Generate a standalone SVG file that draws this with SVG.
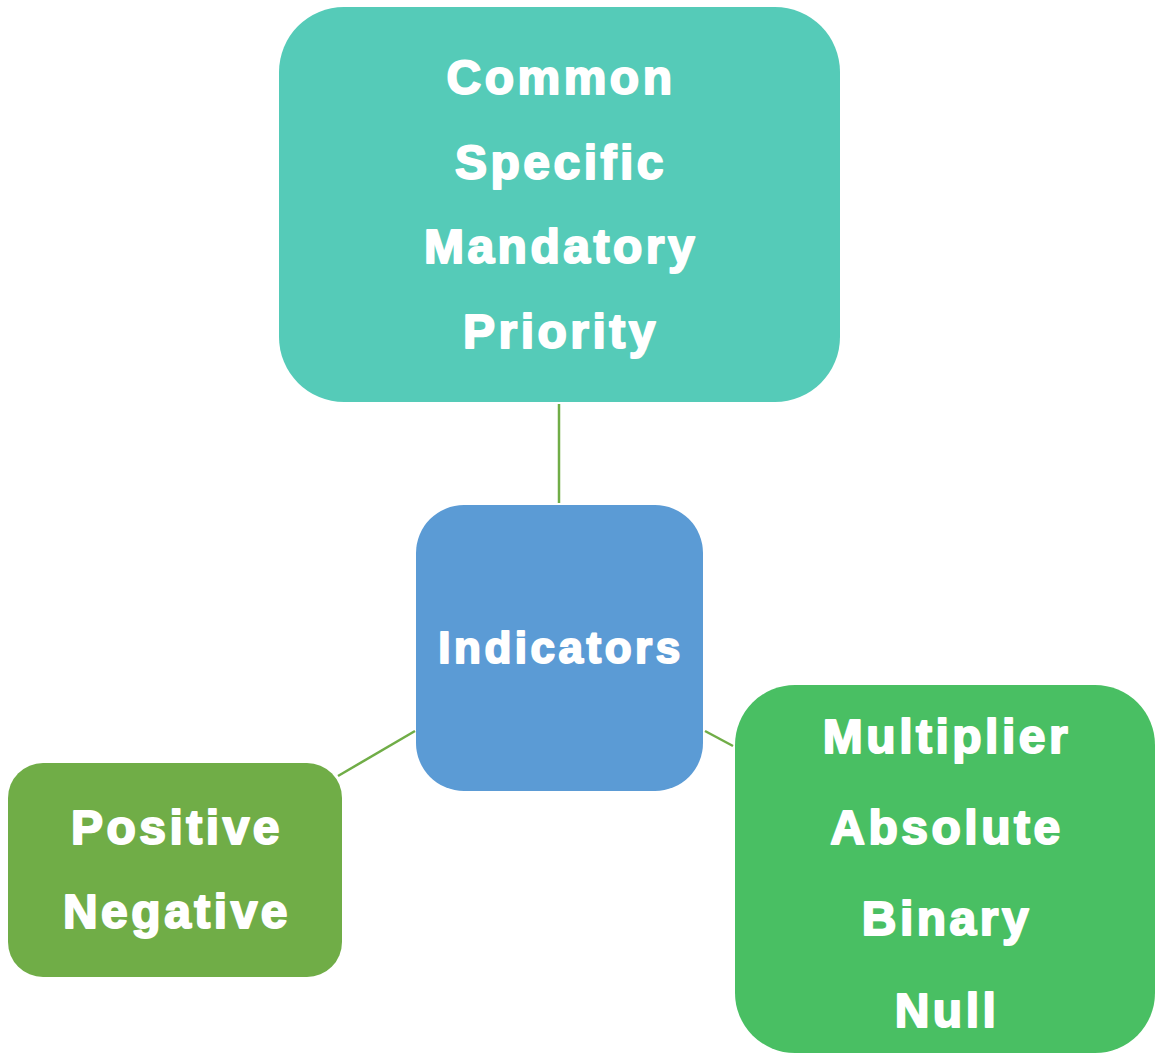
<svg xmlns="http://www.w3.org/2000/svg" width="1159" height="1054" viewBox="0 0 1159 1054">
<style>
.lbl{font-family:"Liberation Sans",Arial,sans-serif;font-weight:bold;fill:#fff;stroke:#fff;stroke-width:2;stroke-linejoin:round;text-anchor:middle;letter-spacing:3.5px}
.big{font-size:48px}
.mid{font-size:44px}
.conn{stroke:#70AD47;stroke-width:2.5;fill:none}
</style>
<rect width="1159" height="1054" fill="#fff"/>
<g id="connectors">
<line class="conn" x1="559" y1="404" x2="559" y2="503"/>
<line class="conn" x1="415" y1="731" x2="338" y2="776"/>
<line class="conn" x1="705" y1="731" x2="733" y2="746"/>
</g>
<g id="node-top">
<rect x="279" y="7" width="561" height="395" rx="65" fill="#55CBB8"/>
<text class="lbl big" x="561" y="94">Common</text>
<text class="lbl big" x="561" y="179">Specific</text>
<text class="lbl big" x="561" y="263">Mandatory</text>
<text class="lbl big" x="561" y="348">Priority</text>
</g>
<g id="node-center">
<rect x="416" y="505" width="287" height="286" rx="48" fill="#5B9BD5"/>
<text class="lbl mid" x="561" y="663">Indicators</text>
</g>
<g id="node-left">
<rect x="8" y="763" width="334" height="214" rx="35" fill="#70AD47"/>
<text class="lbl big" x="177" y="844">Positive</text>
<text class="lbl big" x="177" y="928">Negative</text>
</g>
<g id="node-right">
<rect x="735" y="685" width="420" height="368" rx="60" fill="#49BF63"/>
<text class="lbl big" x="947" y="753">Multiplier</text>
<text class="lbl big" x="947" y="844">Absolute</text>
<text class="lbl big" x="947" y="935">Binary</text>
<text class="lbl big" x="947" y="1027">Null</text>
</g>
</svg>
